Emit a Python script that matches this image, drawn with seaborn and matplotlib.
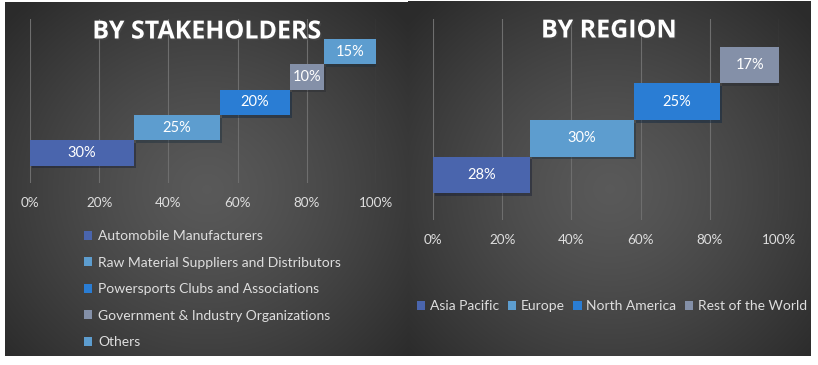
import numpy as np
import pandas as pd
import seaborn as sns
import matplotlib.pyplot as plt
from matplotlib import patheffects as pe

# chart data
stake_labels = ["Automobile Manufacturers", "Raw Material Suppliers and Distributors",
                "Powersports Clubs and Associations", "Government & Industry Organizations", "Others"]
stake_share = [30, 25, 20, 10, 15]
stake_colors = ["#4a65ad", "#5d9dcf", "#2a7dd4", "#8490a8", "#5d9dcf"]

region_labels = ["Asia Pacific", "Europe", "North America", "Rest of the World"]
region_share = [28, 30, 25, 17]
region_colors = ["#4a65ad", "#5d9dcf", "#2a7dd4", "#8490a8"]

tick_values = [0, 20, 40, 60, 80, 100]
tick_labels = ["0%", "20%", "40%", "60%", "80%", "100%"]

plt.rcParams['font.family'] = ['Lato', 'DejaVu Sans']
TXT = "#dedede"
W, H = 818, 365

fig = plt.figure(figsize=(W / 100, H / 100), dpi=100, facecolor="white")

# dark radial-gradient panels behind both charts
yy, xx = np.mgrid[0:H, 0:W]
img = np.ones((H, W, 3))
for x0, x1, y0, y1 in [(5, 408, 2, 356), (408, 811, 1, 356)]:
    cx, cy = (x0 + x1) / 2, (y0 + y1) / 2 + 10
    d = np.sqrt(((xx - cx) / ((x1 - x0) / 1.5)) ** 2 + ((yy - cy) / ((y1 - y0) / 1.4)) ** 2)
    shade = 0.35 - 0.18 * np.clip(d, 0, 1) ** 1.3
    mask = (xx >= x0) & (xx < x1) & (yy >= y0) & (yy < y1)
    for k in range(3):
        img[..., k][mask] = shade[mask]
bg = fig.add_axes([0, 0, 1, 1], zorder=-10)
bg.imshow(img, aspect="auto", interpolation="bilinear")
bg.set_axis_off()


def waterfall(ax, labels, shares, colors):
    df = pd.DataFrame({"segment": labels, "share": shares})
    sns.barplot(data=df, x="share", y="segment", hue="segment", orient="h",
                palette=dict(zip(labels, colors)), width=1.0, saturation=1,
                errorbar=None, legend=True, ax=ax)
    starts = np.cumsum([0] + shares[:-1])
    for cont, s, v in zip(ax.containers, starts, shares):
        for bar in cont:
            bar.set_x(s)
            bar.set_path_effects([pe.SimplePatchShadow(offset=(1.5, -2), alpha=0.45), pe.Normal()])
        ax.bar_label(cont, labels=[f"{v}%"], label_type="center", color="white", fontsize=10.5)
    ax.set_xlim(0, 100)
    ax.set_xticks(tick_values, tick_labels)
    ax.set_yticks([])
    ax.set_xlabel("")
    ax.set_ylabel("")
    ax.set_facecolor("none")
    ax.grid(axis="x", color="#6e6e6e", lw=0.8)
    ax.set_axisbelow(True)
    for sp in ax.spines.values():
        sp.set_visible(False)
    ax.tick_params(axis="x", length=0, colors=TXT, labelsize=9.7, pad=10)


ax1 = fig.add_axes([30 / W, 1 - 183 / H, 346 / W, 164 / H])
waterfall(ax1, stake_labels, stake_share, stake_colors)
ax1.set_ylim(-1.19, 5.29)
sns.move_legend(ax1, "upper left", bbox_to_anchor=(84 / W, 1 - 230 / H),
                bbox_transform=fig.transFigure, frameon=False, title=None,
                fontsize=10, labelcolor=TXT, handlelength=0.6, handleheight=0.6,
                handletextpad=0.4, labelspacing=1.05, borderaxespad=0, borderpad=0)

ax2 = fig.add_axes([433 / W, 1 - 220 / H, 346 / W, 201 / H])
waterfall(ax2, region_labels, region_share, region_colors)
ax2.set_ylim(-1.23, 4.26)
sns.move_legend(ax2, "center left", bbox_to_anchor=(417 / W, 1 - 306 / H),
                bbox_transform=fig.transFigure, frameon=False, title=None, ncol=4,
                fontsize=10, labelcolor=TXT, handlelength=0.6, handleheight=0.6,
                handletextpad=0.35, columnspacing=0.6, borderaxespad=0, borderpad=0)

title_fx = [pe.withSimplePatchShadow(offset=(1, -1.2), alpha=0.6)]
fig.text(207 / W, 1 - 32 / H, "BY STAKEHOLDERS", ha="center", va="center", fontsize=18,
         fontweight="bold", family="Open Sans", color="white", path_effects=title_fx)
fig.text(609 / W, 1 - 31 / H, "BY REGION", ha="center", va="center", fontsize=18,
         fontweight="bold", family="Open Sans", color="white", path_effects=title_fx)

fig.savefig("out.png", dpi=100)
